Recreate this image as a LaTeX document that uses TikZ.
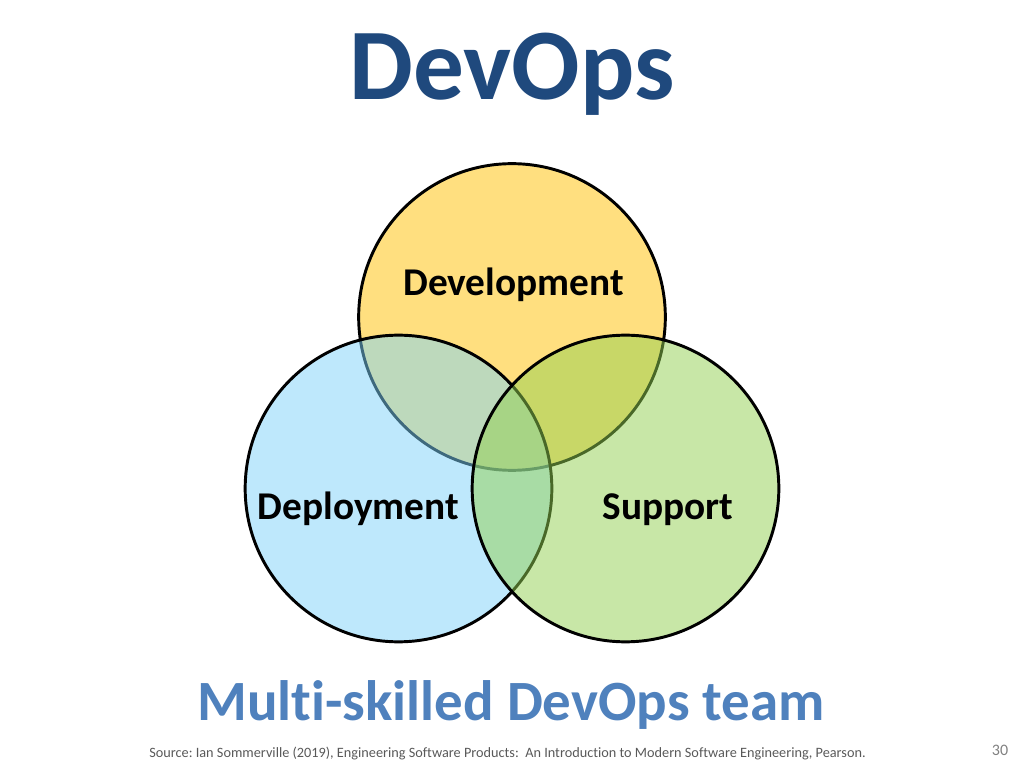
\documentclass[tikz,border=0pt]{standalone}
\usepackage{fontspec}
\setmainfont[Ligatures = CommonOff]{Carlito}
\frenchspacing
\definecolor{devgold}{HTML}{FFC000}
\definecolor{depblue}{RGB}{125,210,250}
\definecolor{supgreen}{HTML}{92D050}
\definecolor{titleblue}{HTML}{1F497D}
\definecolor{teamblue}{HTML}{4F81BD}
\begin{document}
\begin{tikzpicture}[x = 0.75pt, y = 0.75pt,
    area/.style = {shape = circle, draw, line width = 2.2pt, minimum size = 230pt,
        inner sep = 0pt, fill opacity = 0.5, text opacity = 1},
    word/.style = {anchor = base, font = \fontsize{29.5}{33}\selectfont\bfseries}]
    \useasboundingbox (0,0) rectangle (1024,768);
    \node[anchor = base, text = titleblue, font = \fontsize{76}{80}\selectfont\bfseries]
        (title) at (512,668) {DevOps};
    % the three skill areas
    \node[area, fill = devgold] (dev) at (512,451) {};
    \node[area, fill = depblue] (dep) at (398.5,279.5) {};
    \node[area, fill = supgreen] (sup) at (625.5,279.5) {};
    \node[word] (devtext) at (513.5,472) {Development};
    \node[word] (deptext) at (358.5,248) {Deployment};
    \node[word] (suptext) at (668,248) {Support};
    \node[anchor = base, text = teamblue, font = \fontsize{42.7}{47}\selectfont\bfseries]
        (team) at (511,48) {Multi-skilled DevOps team};
    \node[anchor = base, text = black!65, font = \fontsize{10.7}{13}\selectfont]
        (source) at (507.5,11) {Source: Ian Sommerville (2019), Engineering Software Products:\ \ An Introduction to Modern Software Engineering, Pearson.};
    \node[anchor = base, text = black!50, font = \fontsize{12}{14}\selectfont]
        (page) at (1000,13) {30};
\end{tikzpicture}
\end{document}
